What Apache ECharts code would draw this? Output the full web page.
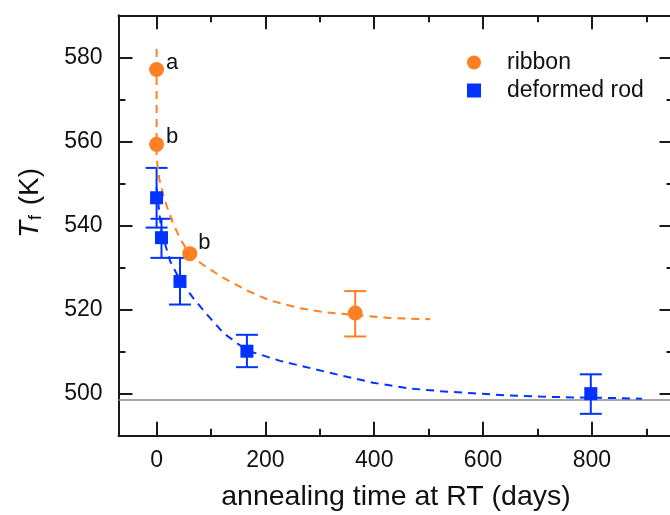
<!DOCTYPE html>
<html>
<head>
<meta charset="utf-8">
<script src="https://cdn.jsdelivr.net/npm/echarts@6/dist/echarts.min.js"></script>
<style>html,body{margin:0;padding:0;background:#fff;}#c{width:670px;height:515px;}</style>
</head>
<body>
<div id="c"></div>
<script>
// ---- data ----
const xRange = [-70, 950];
const yRange = [490, 590];
const xMajorTicks = [0, 200, 400, 600, 800];
const xMinorTicks = [100, 300, 500, 700, 900];
const yMajorTicks = [500, 520, 540, 560, 580];
const yMinorTicks = [510, 530, 550, 570];

const ribbonDays = [0, 0, 61, 365];
const ribbonTf   = [577.1, 559.3, 533.3, 519.2];
const ribbonTags = ['a', 'b', 'b', ''];
const ribbonErrDays = [365];
const ribbonErrLow  = [513.6];
const ribbonErrHigh = [524.4];

const rodDays = [0, 9, 43, 166, 798];
const rodTf   = [546.6, 537.1, 526.7, 510.1, 500.0];
const rodErrLow  = [539.5, 532.3, 521.2, 506.3, 495.2];
const rodErrHigh = [553.7, 541.6, 532.3, 514.0, 504.6];

const ribbonFitDays = [0, 0, 5, 15, 30, 45, 61, 86, 122, 165, 208, 263, 313, 365, 430, 503];
const ribbonFitTf   = [582, 556, 551, 546, 540.5, 536.5, 533, 530.6, 527.6, 524.6, 522.2, 520.3, 519.3, 518.7, 518.0, 517.7];
const rodFitDays = [0, 9, 25, 43, 67, 92, 123, 166, 227, 288, 337, 398, 460, 521, 582, 644, 705, 766, 846, 892];
const rodFitTf   = [549, 538.5, 531.5, 527, 522.8, 518.9, 514.4, 510.3, 507.8, 505.9, 504.4, 502.6, 501.3, 500.6, 500.1, 499.6, 499.3, 499.1, 498.95, 498.8];

const baselineTf = 498.5;

// ---- styles ----
const ORANGE = '#ff8022';
const BLUE = '#0033ff';
const FONT = '"Liberation Sans", Arial, sans-serif';
const AX = '#1a1a1a';

const chart = echarts.init(document.getElementById('c'), null, {renderer: 'canvas'});

function xAxisDef(pos, ticks, len, showLine, showLabel) {
  return {
    type: 'value', position: pos, min: xRange[0], max: xRange[1],
    axisLine: {show: showLine, onZero: false, lineStyle: {color: AX, width: 2}},
    axisTick: {show: true, inside: true, length: len, customValues: ticks, lineStyle: {color: AX, width: 2}},
    axisLabel: {show: showLabel, customValues: ticks, fontFamily: FONT, fontSize: 23, color: '#111', margin: 13},
    splitLine: {show: false},
    name: showLabel ? 'annealing time at RT (days)' : '',
    nameLocation: 'middle', nameGap: 47,
    nameTextStyle: {fontFamily: FONT, fontSize: 28.5, color: '#111'}
  };
}
function yAxisDef(pos, ticks, len, showLine, showLabel) {
  return {
    type: 'value', position: pos, min: yRange[0], max: yRange[1],
    axisLine: {show: showLine, onZero: false, lineStyle: {color: AX, width: 2}},
    axisTick: {show: true, inside: true, length: len, customValues: ticks, lineStyle: {color: AX, width: 2}},
    axisLabel: {show: showLabel, customValues: ticks, fontFamily: FONT, fontSize: 23, color: '#111', margin: 16},
    splitLine: {show: false}
  };
}

function errRender(color) {
  return function (params, api) {
    const x = api.value(0), lo = api.value(1), hi = api.value(2);
    const a = api.coord([x, lo]), b = api.coord([x, hi]);
    const w = 11;
    const st = {stroke: color, lineWidth: 2};
    return {type: 'group', children: [
      {type: 'line', shape: {x1: a[0], y1: a[1], x2: b[0], y2: b[1]}, style: st},
      {type: 'line', shape: {x1: a[0] - w, y1: a[1], x2: a[0] + w, y2: a[1]}, style: st},
      {type: 'line', shape: {x1: b[0] - w, y1: b[1], x2: b[0] + w, y2: b[1]}, style: st}
    ]};
  };
}

const tagOffsets = [[-3, -7], [-3, -7], [-4, -11], [0, 0]];

const option = {
  animation: false,
  backgroundColor: '#fff',
  grid: {left: 118.5, right: -3.5, top: 15.3, bottom: 79.3, containLabel: false, outerBoundsMode: 'none'},
  xAxis: [
    xAxisDef('bottom', xMajorTicks, 14, true, true),
    xAxisDef('bottom', xMinorTicks, 7, false, false),
    xAxisDef('top', xMajorTicks, 14, true, false),
    xAxisDef('top', xMinorTicks, 7, false, false)
  ],
  yAxis: [
    yAxisDef('left', yMajorTicks, 14, true, true),
    yAxisDef('left', yMinorTicks, 7, false, false),
    yAxisDef('right', yMajorTicks, 14, true, false),
    yAxisDef('right', yMinorTicks, 7, false, false)
  ],
  legend: {
    orient: 'vertical', left: 462, top: 46, itemGap: 5,
    itemWidth: 14, itemHeight: 14,
    textStyle: {fontFamily: FONT, fontSize: 23, color: '#111', padding: [0, 0, 0, 21]},
    data: [{name: 'ribbon', icon: 'circle'}, {name: 'deformed rod', icon: 'rect'}]
  },
  graphic: [{
    type: 'text', x: 30, y: 203, rotation: Math.PI / 2,
    style: {
      text: '{t|T}{s|f}{n| (K)}',
      align: 'center', verticalAlign: 'middle',
      rich: {
        t: {fontFamily: FONT, fontSize: 28, fontStyle: 'italic', fill: '#111', lineHeight: 30, verticalAlign: 'middle'},
        s: {fontFamily: FONT, fontSize: 18, fill: '#111', lineHeight: 18, verticalAlign: 'bottom', padding: [0, 2, 0, 1]},
        n: {fontFamily: FONT, fontSize: 28, fill: '#111', lineHeight: 30, verticalAlign: 'middle'}
      }
    }
  }],
  series: [
    {
      type: 'line', name: 'baseline', silent: true, showSymbol: false,
      data: [[xRange[0], baselineTf], [xRange[1], baselineTf]],
      lineStyle: {color: '#8a8a8a', width: 1.5}, z: 1
    },
    {
      type: 'custom', name: 'rodErr', renderItem: errRender(BLUE),
      data: rodDays.map((d, i) => [d, rodErrLow[i], rodErrHigh[i]]),
      encode: {x: 0, y: [1, 2]}, z: 2
    },
    {
      type: 'custom', name: 'ribbonErr', renderItem: errRender(ORANGE),
      data: ribbonErrDays.map((d, i) => [d, ribbonErrLow[i], ribbonErrHigh[i]]),
      encode: {x: 0, y: [1, 2]}, z: 2
    },
    {
      type: 'line', name: 'rodFit', silent: true, showSymbol: false,
      data: rodFitDays.map((d, i) => [d, rodFitTf[i]]),
      lineStyle: {color: BLUE, width: 2, type: [8, 6]}, z: 3
    },
    {
      type: 'line', name: 'ribbonFit', silent: true, showSymbol: false,
      data: ribbonFitDays.map((d, i) => [d, ribbonFitTf[i]]),
      lineStyle: {color: ORANGE, width: 2, type: [8, 6]}, z: 3
    },
    {
      type: 'scatter', name: 'deformed rod', symbol: 'rect', symbolSize: 13,
      itemStyle: {color: BLUE, opacity: 1},
      data: rodDays.map((d, i) => [d, rodTf[i]]), z: 4
    },
    {
      type: 'scatter', name: 'ribbon', symbol: 'circle', symbolSize: 15,
      itemStyle: {color: ORANGE, opacity: 1},
      data: ribbonDays.map((d, i) => ({
        value: [d, ribbonTf[i]],
        label: {show: ribbonTags[i] !== '', formatter: ribbonTags[i], position: 'right',
                distance: 5, offset: tagOffsets[i], fontFamily: FONT, fontSize: 22, color: '#111'}
      })), z: 5
    }
  ]
};
chart.setOption(option);
</script>
</body>
</html>
